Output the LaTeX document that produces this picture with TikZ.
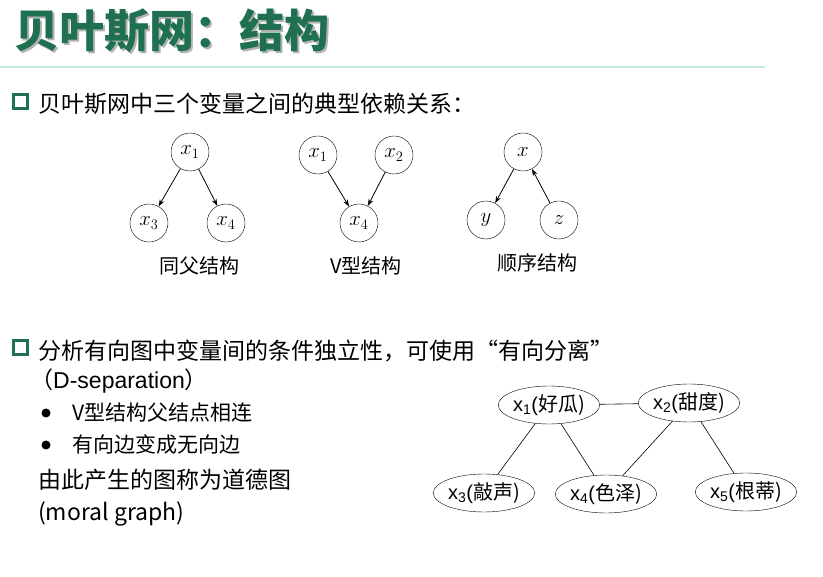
\documentclass[tikz,border=0pt]{standalone}
\usepackage{fontspec}
\setmainfont{Liberation Sans}
\newfontfamily\cjk{Noto Sans CJK SC}
\usetikzlibrary{shapes.geometric,arrows.meta}
\definecolor{ttl}{HTML}{1E7050}
\definecolor{rule}{HTML}{C8E8D8}
\begin{document}
\begin{tikzpicture}[x=1pt,y=-1pt,
  vc/.style={circle,draw,minimum size=38pt,inner sep=0pt,font=\fontsize{20}{20}\selectfont},
  arr/.style={-{Stealth[length=7pt,width=5pt]},thick},
  capt/.style={font=\cjk\fontsize{20}{20}\selectfont},
  body/.style={anchor=west,font=\cjk\fontsize{23}{23}\selectfont,inner sep=0pt},
  sq/.style={draw=ttl,line width=3pt,minimum size=14pt,inner sep=0pt},
  me/.style={ellipse,draw,minimum width=92pt,minimum height=38pt,inner sep=0pt,font=\fontsize{20}{20}\selectfont},
  ml/.style={semithick}]
\useasboundingbox (0,0) rectangle (823,577);
\node[anchor=west,inner sep=0pt,text=gray!60,font=\cjk\bfseries\fontsize{45}{45}\selectfont] (ts) at (16,33) {贝叶斯网：结构};
\node[anchor=west,inner sep=0pt,text=ttl,font=\cjk\bfseries\fontsize{45}{45}\selectfont] (t) at (14,31) {贝叶斯网：结构};
\draw[rule,line width=2pt] (0,67) -- (765,67);
\node[sq] (s1) at (20,102) {};
\node[body] (b1) at (38,104) {贝叶斯网中三个变量之间的典型依赖关系：};
% common parent
\node[vc] (a1) at (190,152) {$x_1$};
\node[vc] (a3) at (149,223) {$x_3$};
\node[vc] (a4) at (226,223) {$x_4$};
\draw[arr] (a1) -- (a3); \draw[arr] (a1) -- (a4);
\node[capt] (c1) at (199,266) {同父结构};
% V
\node[vc] (v1) at (318,155) {$x_1$};
\node[vc] (v2) at (394,155) {$x_2$};
\node[vc] (v4) at (359,223) {$x_4$};
\draw[arr] (v1) -- (v4); \draw[arr] (v2) -- (v4);
\node[capt] (c2) at (366,266) {V\cjk 型结构};
% sequence
\node[vc] (qx) at (523,152) {$x$};
\node[vc] (qy) at (486,220) {$y$};
\node[vc] (qz) at (559,220) {$z$};
\draw[arr] (qx) -- (qy); \draw[arr] (qz) -- (qx);
\node[capt] (c3) at (537,263) {顺序结构};
% bullet 2
\node[sq] (s2) at (20,348) {};
\node[body] (b2) at (38,351) {分析有向图中变量间的条件独立性，可使用“有向分离”};
\node[body] (b3) at (30,381) {（\rmfamily D-separation\cjk）};
\fill (46,413) circle (4.5pt);
\fill (46,445) circle (4.5pt);
\node[body,font=\cjk\fontsize{21}{21}\selectfont] (i1) at (72,413) {V型结构父结点相连};
\node[body,font=\cjk\fontsize{21}{21}\selectfont] (i2) at (72,445) {有向边变成无向边};
\node[body] (b4) at (38,480) {由此产生的图称为道德图};
\node[body] (b5) at (38,514) {(moral graph)};
% moral graph
\node[me] (m1) at (549,405) {x\textsubscript{1}(\cjk 好瓜)};
\node[me] (m2) at (689,403) {x\textsubscript{2}(\cjk 甜度)};
\node[me] (m3) at (484,493) {x\textsubscript{3}(\cjk 敲声)};
\node[me] (m4) at (606,494) {x\textsubscript{4}(\cjk 色泽)};
\node[me] (m5) at (746,492) {x\textsubscript{5}(\cjk 根蒂)};
\draw[ml] (m1) -- (m2); \draw[ml] (m1) -- (m3); \draw[ml] (m1) -- (m4);
\draw[ml] (m2) -- (m4); \draw[ml] (m2) -- (m5);
\end{tikzpicture}
\end{document}
